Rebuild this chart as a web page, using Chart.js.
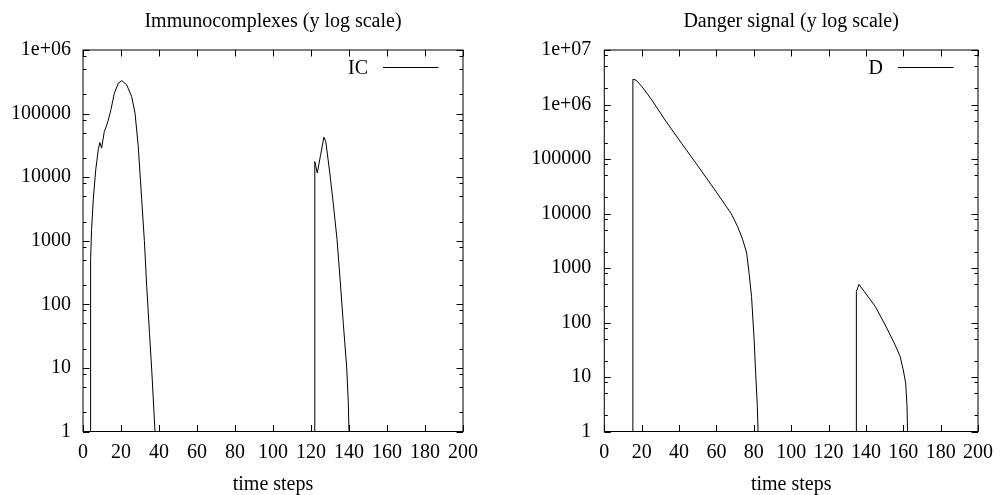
<!DOCTYPE html>
<html><head><meta charset="utf-8">
<script src="https://cdn.jsdelivr.net/npm/chart.js@4/dist/chart.umd.min.js"></script>
<style>
html,body{margin:0;padding:0;background:#fff;}
#wrap{position:relative;width:1002px;height:495px;overflow:hidden;}
canvas{position:absolute;top:0;}
</style></head><body>
<div id="wrap">
<canvas id="c1" width="501" height="495" style="left:0"></canvas>
<canvas id="c2" width="501" height="495" style="left:501px"></canvas>
</div>
<script>
// ---- data ----
const icTime   = [4, 4, 4.5, 5.4, 6.7, 8.1, 8.9, 9.8, 11.2, 12.5, 13.3, 14.7, 16.5, 18.6, 20.4, 23, 25.6, 27.4, 29.1, 30.9, 32.3, 33.5, 35, 36.2, 37.9, 38.5,
                  122, 122, 123.3, 125, 126.8, 127.8, 129.9, 131.7, 133.7, 135.3, 137, 138.8, 139.6, 140, 140.3];
const icValues = [0.01, 500, 1500, 4400, 13000, 28000, 35000, 28600, 52000, 66000, 79000, 115000, 209000, 300000, 330000, 283000, 186000, 101000, 30000, 4400, 1000, 200, 35, 9, 1, 0.3,
                  0.01, 17600, 11600, 22000, 42600, 36000, 11600, 3900, 1050, 250, 50, 10, 3, 1, 0.2];

const dTime   = [15.3, 15.3, 17, 20.3, 25.5, 32.5, 41.3, 50.4, 59.2, 67.9, 71.4, 74.1, 76.2, 77.5, 78.8, 80.2, 81, 81.9, 82.3, 82.5,
                 134.9, 134.9, 136.3, 145.1, 151.2, 155.6, 158.3, 160, 161.3, 162, 162.3, 162.5];
const dValues = [0.01, 2.9e6, 2.8e6, 2.1e6, 1.2e6, 520000, 195000, 72000, 27000, 10000, 5700, 3300, 1870, 800, 300, 48, 12, 2.9, 1, 0.3,
                 0.01, 370, 500, 195, 79, 39, 24, 13.5, 7.7, 2.9, 1, 0.3];

const xTicks = [0, 20, 40, 60, 80, 100, 120, 140, 160, 180, 200];
const icYTicks = [1, 10, 100, 1000, 10000, 100000, 1000000];
const icYTickLabels = ['1', '10', '100', '1000', '10000', '100000', '1e+06'];
const dYTicks = [1, 10, 100, 1000, 10000, 100000, 1000000, 10000000];
const dYTickLabels = ['1', '10', '100', '1000', '10000', '100000', '1e+06', '1e+07'];
const minorFactors = [2, 5, 8];

const FONT = '"Liberation Serif", "Times New Roman", Times, serif';
Chart.defaults.color = '#000';
Chart.defaults.font.family = FONT;
Chart.defaults.font.size = 20;

const frameTicks = {
  id: 'frameTicks',
  afterDraw(chart) {
    const {ctx, chartArea: a, scales: {x, y}} = chart;
    ctx.save();
    ctx.strokeStyle = '#000';
    ctx.lineWidth = 1;
    ctx.strokeRect(a.left, a.top, a.right - a.left, a.bottom - a.top);
    ctx.beginPath();
    const maj = 6.5, min = 3.5;
    x.ticks.forEach(t => {
      const px = Math.round(x.getPixelForValue(t.value)) + 0.5;
      ctx.moveTo(px, a.bottom); ctx.lineTo(px, a.bottom - maj);
      ctx.moveTo(px, a.top); ctx.lineTo(px, a.top + maj);
    });
    y.ticks.forEach(t => {
      const py = Math.round(y.getPixelForValue(t.value)) + 0.5;
      ctx.moveTo(a.left, py); ctx.lineTo(a.left + maj, py);
      ctx.moveTo(a.right, py); ctx.lineTo(a.right - maj, py);
      minorFactors.forEach(f => {
        const v = t.value * f;
        if (v < y.max) {
          const pm = Math.round(y.getPixelForValue(v)) + 0.5;
          ctx.moveTo(a.left, pm); ctx.lineTo(a.left + min, pm);
          ctx.moveTo(a.right, pm); ctx.lineTo(a.right - min, pm);
        }
      });
    });
    ctx.stroke();
    ctx.restore();
  }
};

const keyPlugin = {
  id: 'key',
  afterDraw(chart) {
    const {ctx, chartArea: a} = chart;
    const ds = chart.data.datasets[0];
    const ly = Math.round(a.top + 16.7) + 0.5;
    const x1 = a.right - 80, x2 = a.right - 24.5;
    ctx.save();
    ctx.strokeStyle = ds.borderColor; ctx.lineWidth = 1;
    ctx.beginPath(); ctx.moveTo(x1, ly); ctx.lineTo(x2, ly); ctx.stroke();
    ctx.font = '20px ' + FONT;
    ctx.fillStyle = '#000'; ctx.textAlign = 'right'; ctx.textBaseline = 'alphabetic';
    ctx.fillText(ds.label, x1 - 15, a.top + 23.5);
    ctx.restore();
  }
};

function makeChart(id, title, label, times, values, yTicks, yLabels, yWidth, padRight, yPad) {
  return new Chart(document.getElementById(id), {
    type: 'line',
    data: {
      datasets: [{
        label: label,
        data: times.map((t, i) => ({x: t, y: values[i]})),
        borderColor: '#000',
        borderWidth: 1,
        pointRadius: 0,
        tension: 0,
        fill: false
      }]
    },
    options: {
      responsive: false,
      animation: false,
      devicePixelRatio: 1,
      layout: {padding: {left: 0, right: padRight, top: 0, bottom: 0}},
      plugins: {
        legend: {display: false},
        tooltip: {enabled: false},
        title: {
          display: true, text: title, fullSize: false,
          font: {size: 20, weight: 'normal', family: FONT},
          padding: {top: 10, bottom: 16}, color: '#000'
        }
      },
      scales: {
        x: {
          type: 'linear', min: 0, max: 200,
          afterBuildTicks: s => { s.ticks = xTicks.map(v => ({value: v})); },
          ticks: {autoSkip: false, maxRotation: 0, padding: 9, font: {size: 20}, callback: v => String(v)},
          grid: {display: false, drawTicks: false},
          border: {display: false},
          title: {display: true, text: 'time steps', font: {size: 20, lineHeight: 1}, padding: {top: 0, bottom: 0}},
          afterFit: s => { s.height = 63.5; }
        },
        y: {
          type: 'logarithmic', min: yTicks[0], max: yTicks[yTicks.length - 1],
          afterBuildTicks: s => { s.ticks = yTicks.map(v => ({value: v})); },
          ticks: {autoSkip: false, padding: yPad, font: {size: 20},
                  callback: (v) => { const i = yTicks.indexOf(v); return i >= 0 ? yLabels[i] : ''; }},
          grid: {display: false, drawTicks: false},
          border: {display: false},
          afterFit: s => { s.width = yWidth; }
        }
      }
    },
    plugins: [frameTicks, keyPlugin]
  });
}

makeChart('c1', 'Immunocomplexes (y log scale)', 'IC', icTime, icValues, icYTicks, icYTickLabels, 83, 38, 12);
makeChart('c2', 'Danger signal (y log scale)', 'D', dTime, dValues, dYTicks, dYTickLabels, 103.3, 17.7, 13);
</script>
</body></html>
